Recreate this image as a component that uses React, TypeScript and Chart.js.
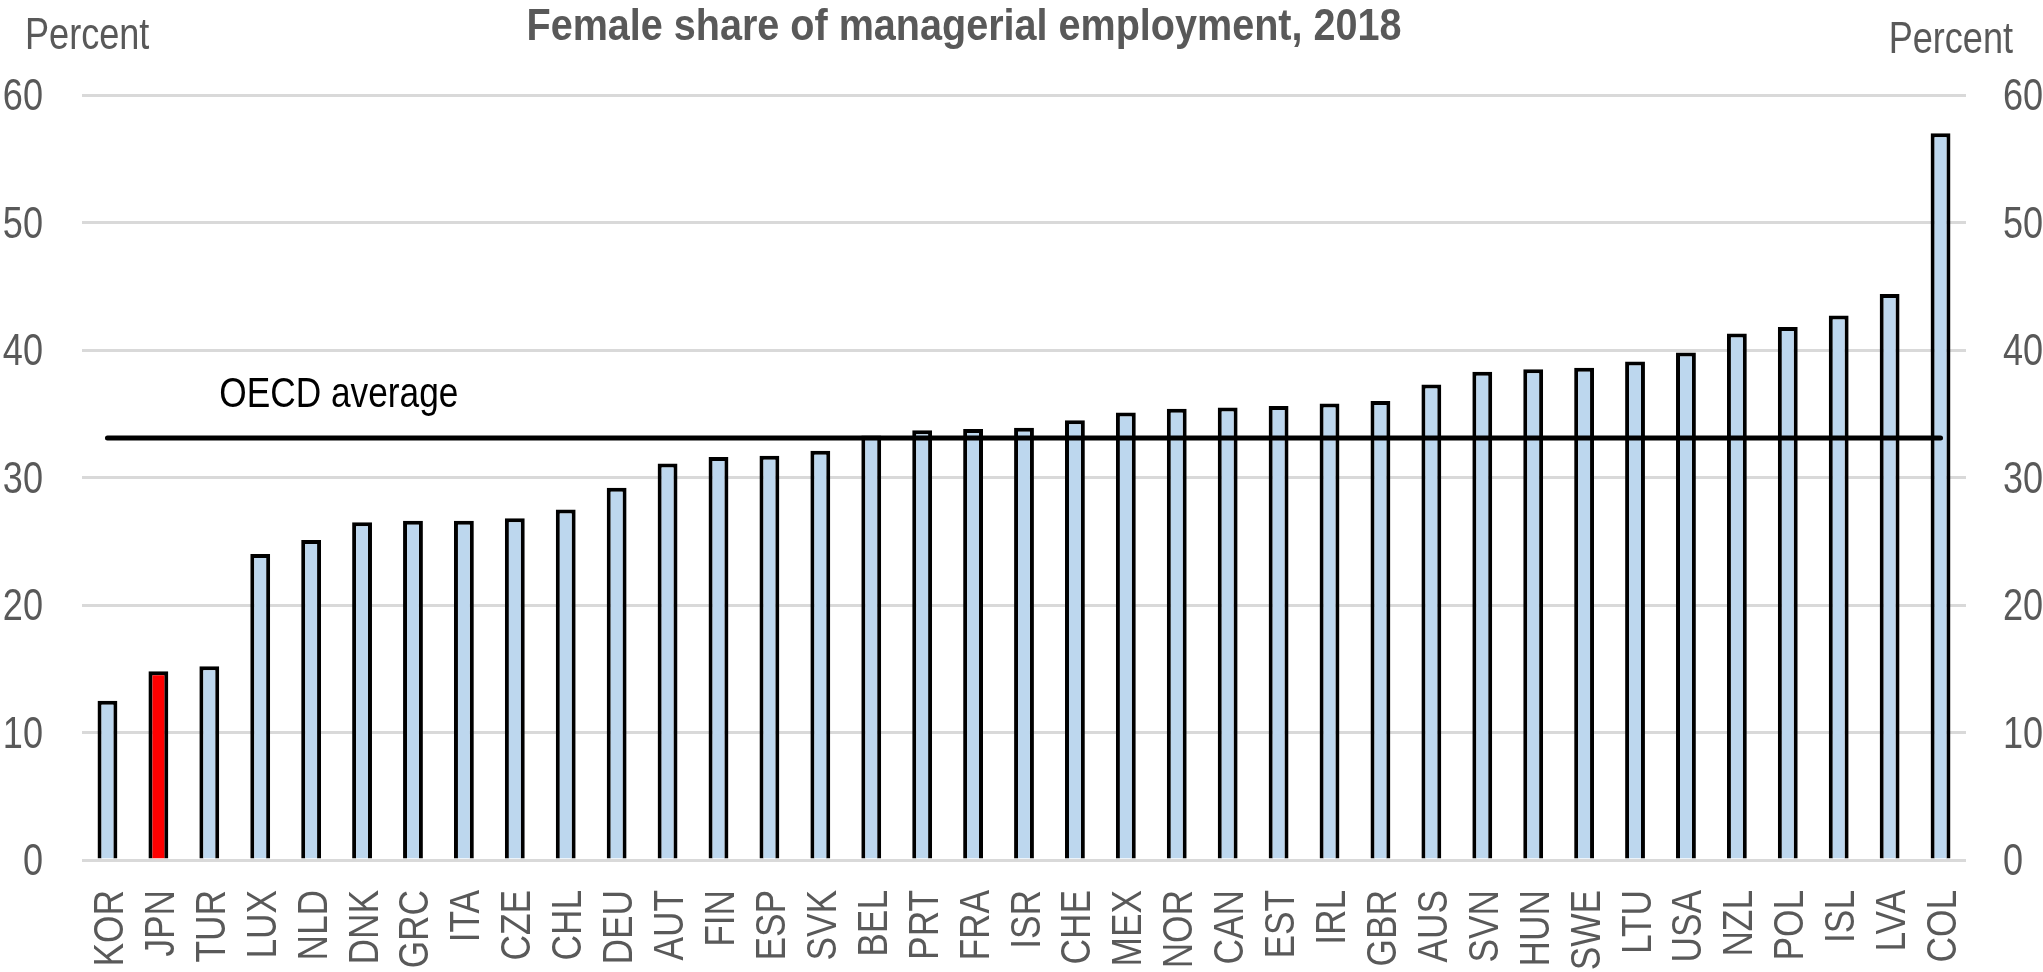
import React, { useEffect, useRef } from "react";
import { Chart, registerables } from "chart.js";

Chart.register(...registerables);

const TITLE = "Female share of managerial employment, 2018";
const AXIS_UNIT = "Percent";
const AVERAGE_LABEL = "OECD average";

const categories = [
  "KOR", "JPN", "TUR", "LUX", "NLD", "DNK", "GRC", "ITA", "CZE", "CHL",
  "DEU", "AUT", "FIN", "ESP", "SVK", "BEL", "PRT", "FRA", "ISR", "CHE",
  "MEX", "NOR", "CAN", "EST", "IRL", "GBR", "AUS", "SVN", "HUN", "SWE",
  "LTU", "USA", "NZL", "POL", "ISL", "LVA", "COL",
];

const femaleShare = [
  12.5, 14.8, 15.2, 24.0, 25.1, 26.5, 26.6, 26.6, 26.8, 27.5,
  29.2, 31.1, 31.6, 31.7, 32.1, 33.3, 33.7, 33.8, 33.9, 34.5,
  35.1, 35.4, 35.5, 35.6, 35.8, 36.0, 37.3, 38.3, 38.5, 38.6,
  39.1, 39.8, 41.3, 41.8, 42.7, 44.4, 57.0,
];

const highlighted = ["JPN"];
const oecdAverage = 33.1;

const yTicks = [0, 10, 20, 30, 40, 50, 60];

const FONT = '"Liberation Sans", Arial, sans-serif';
const NARROW_X = 0.82; // horizontal squeeze to imitate a narrow face
const GREY = "#595959";

function narrowText(ctx: any, text: string, x: number, y: number, align: "left" | "right" | "center", sx = NARROW_X) {
  ctx.save();
  ctx.translate(x, y);
  ctx.scale(sx, 1);
  ctx.textAlign = align;
  ctx.fillText(text, 0, 0);
  ctx.restore();
}

const textPlugin = {
  id: "texts",
  afterDraw(chart: any) {
    const ctx = chart.ctx;
    const xs = chart.scales.x;
    const ys = chart.scales.y;
    const area = chart.chartArea;
    ctx.save();
    ctx.textBaseline = "alphabetic";

    // title, fitted to its width in the reference
    ctx.fillStyle = GREY;
    ctx.font = `bold 44px ${FONT}`;
    const tw = ctx.measureText(TITLE).width;
    narrowText(ctx, TITLE, 964, 40, "center", 875 / tw);

    // unit labels
    ctx.font = `44px ${FONT}`;
    narrowText(ctx, AXIS_UNIT, 25, 49, "left");
    narrowText(ctx, AXIS_UNIT, 2013, 53, "right");

    // y tick labels (left and right)
    ctx.font = `44px ${FONT}`;
    for (const v of yTicks) {
      const y = ys.getPixelForValue(v) + 15;
      narrowText(ctx, String(v), area.left - 39, y, "right");
      narrowText(ctx, String(v), area.right + 37, y, "left");
    }

    // x category labels, rotated
    ctx.font = `43px ${FONT}`;
    categories.forEach((c, i) => {
      const x = xs.getPixelForValue(i);
      ctx.save();
      ctx.translate(x, area.bottom + 30);
      ctx.rotate(-Math.PI / 2);
      ctx.scale(NARROW_X, 1);
      ctx.textAlign = "right";
      ctx.fillText(c, 0, 15.5);
      ctx.restore();
    });

    // average label
    ctx.fillStyle = "#000000";
    ctx.font = `43px ${FONT}`;
    const lx = xs.getPixelForValue(2) + 10;
    const ly = ys.getPixelForValue(oecdAverage) - 31;
    narrowText(ctx, AVERAGE_LABEL, lx, ly, "left");
    ctx.restore();
  },
};

export default function App() {
  const ref = useRef<HTMLCanvasElement | null>(null);

  useEffect(() => {
    if (!ref.current) return;
    const barColors = categories.map((c) => (highlighted.includes(c) ? "#ff0000" : "#bdd7ee"));
    const chart = new Chart(ref.current, {
      type: "bar",
      data: {
        labels: categories,
        datasets: [
          {
            type: "line",
            label: AVERAGE_LABEL,
            data: [
              { x: categories[0], y: oecdAverage },
              { x: categories[categories.length - 1], y: oecdAverage },
            ] as any,
            borderColor: "#000000",
            borderWidth: 5,
            borderCapStyle: "round",
            pointRadius: 0,
            fill: false,
            order: 0,
            yAxisID: "y",
          } as any,
          {
            type: "bar",
            label: TITLE,
            data: femaleShare,
            backgroundColor: barColors,
            borderColor: "#000000",
            borderWidth: 4,
            borderSkipped: "bottom",
            barPercentage: 0.39,
            categoryPercentage: 1,
            order: 1,
            yAxisID: "y",
          } as any,
        ],
      },
      options: {
        responsive: false,
        animation: false,
        devicePixelRatio: 1,
        layout: { padding: { top: 95, left: 0, right: 0, bottom: 0 } },
        plugins: {
          legend: { display: false },
          tooltip: { enabled: false },
          title: { display: false },
        },
        scales: {
          x: {
            type: "category",
            offset: true,
            grid: { display: false },
            border: { display: false },
            ticks: { display: false, autoSkip: false },
            afterFit: (s: any) => {
              s.height = 112;
            },
          },
          y: {
            position: "left",
            min: 0,
            max: 60,
            afterBuildTicks: (s: any) => {
              s.ticks = yTicks.map((v) => ({ value: v }));
            },
            ticks: { display: false },
            grid: { color: "#d9d9d9", lineWidth: 3, drawTicks: false },
            border: { display: false },
            afterFit: (s: any) => {
              s.width = 82;
            },
          },
          y2: {
            position: "right",
            min: 0,
            max: 60,
            ticks: { display: false },
            grid: { display: false, drawTicks: false },
            border: { display: false },
            afterFit: (s: any) => {
              s.width = 77;
            },
          },
        },
      } as any,
      plugins: [textPlugin],
    });
    return () => chart.destroy();
  }, []);

  return (
    <div style={{ position: "fixed", left: 0, top: 0, width: 2043, height: 972, background: "#ffffff" }}>
      <canvas ref={ref} width={2043} height={972} style={{ display: "block", width: 2043, height: 972 }} />
    </div>
  );
}
